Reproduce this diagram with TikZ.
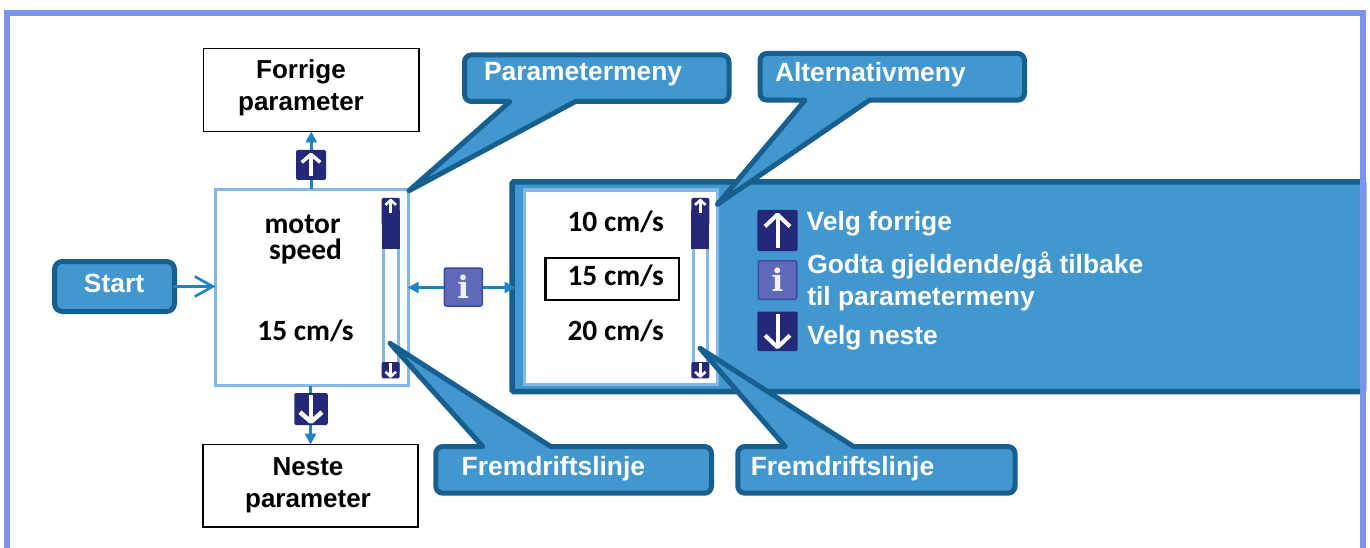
\documentclass[tikz,border=0pt]{standalone}
\usepackage{fontspec}
\setmainfont{Liberation Sans}
\newfontfamily\calfont{Carlito}
\newfontfamily\infofont{DejaVu Serif}
\usetikzlibrary{arrows.meta}
\definecolor{framec}{HTML}{7B93EC}
\definecolor{darkb}{HTML}{165F8F}
\definecolor{fillb}{HTML}{4397CF}
\definecolor{lightb}{HTML}{82B8E8}
\definecolor{arrowc}{HTML}{1A84C4}
\definecolor{navy}{HTML}{252879}
\definecolor{infof}{HTML}{5E69B8}
\definecolor{infod}{HTML}{3F4A9E}
\tikzset{
  x=1pt,y=-1pt,
  every node/.style={inner sep=0pt,outer sep=0pt},
  blackbox/.style={draw=black,line width=1.2pt,fill=white,rectangle},
  lightbox/.style={draw=lightb,line width=3.2pt,fill=white,rectangle},
  callout/.style={draw=darkb,fill=fillb,line width=5pt,line join=round},
  sanslabel/.style={font=\bfseries\fontsize{26}{32.2}\selectfont,text=black,align=center},
  whitelabel/.style={font=\bfseries\fontsize{26.4}{32.4}\selectfont,text=white,align=left},
  callabel/.style={font=\calfont\bfseries\fontsize{29.4}{26.5}\selectfont,text=black,align=center},
  navbox/.style={fill=navy,rounded corners=2pt,rectangle},
  infobox/.style={fill=infof,draw=infod,line width=1.5pt,rounded corners=2pt,rectangle,
     font=\infofont\bfseries\fontsize{31}{31}\selectfont,text=white!90!infof},
  flow/.style={draw=arrowc,line width=2.6pt},
  tiptri/.style={-{Triangle[length=11pt,width=11pt]}},
  wht/.style={draw=white,line width=#1,line join=round},
}
% name, cx, cy, w, h, direction (1 up, -1 down), scale x, scale y, line width
\newcommand\navicon[9]{%
  \node[navbox,minimum width=#4pt,minimum height=#5pt] (#1) at (#2,#3) {};
  \begin{scope}[shift={(#2,#3)},xscale=#7,yscale=#6*#8]
    \draw[wht=#9pt] (0,17) -- (0,-16);
    \draw[wht=#9pt] (-12.5,-4) -- (0,-16) -- (12.5,-4);
  \end{scope}}
% name, track left, track right, icon left
\newcommand\scrollbar[4]{%
  \node[draw=lightb,fill=white,line width=3pt,rectangle,minimum width=#3pt-#2pt,minimum height=170pt] (#1track)
     at ({(#2+#3)/2},285) {};
  \fill[navy,rounded corners=1.5pt] (#4,198) rectangle ({#4+18},225);
  \fill[navy] (#4,210) rectangle ({#4+18},249);
  \node[minimum width=18pt,minimum height=51pt] (#1thumb) at ({#4+9},223.5) {};
  \begin{scope}[shift={({#4+9},206.5)},xscale=.42,yscale=.4]
    \draw[wht=2.6pt] (0,17) -- (0,-16);
    \draw[wht=2.6pt] (-12.5,-4) -- (0,-16) -- (12.5,-4);
  \end{scope}
  \navicon{#1down}{#4+9}{370.2}{18}{16.4}{-1}{.42}{.4}{2.6}}
\begin{document}
\begin{tikzpicture}
\useasboundingbox (0,0) rectangle (1370,548);
\fill[white] (0,0) rectangle (1370,548);

% panel with the option menu
\node[draw=darkb,fill=fillb,line width=5.5pt,rectangle,rounded corners=1.5pt,minimum width=851.5pt,minimum height=209.5pt] (panel) at (937.75,286.75) {};
% frame
\draw[framec,line width=6pt] (7,548) -- (7,13) -- (1363,13) -- (1363,548);

% boxes
\node[blackbox,minimum width=215.5pt,minimum height=83pt] (forrige) at (311.25,90) {};
\node[blackbox,minimum width=215pt,minimum height=82.5pt] (neste) at (310.5,485.75) {};
\node[lightbox,minimum width=193pt,minimum height=196pt] (mainbox) at (312,287.5) {};
\node[draw=darkb,fill=fillb,line width=5pt,rectangle,rounded corners=8pt,minimum width=120pt,minimum height=50pt] (start) at (114.5,286.5) {};
\node[draw=lightb,fill=white,line width=3.5pt,rectangle,minimum width=193pt,minimum height=194.5pt] (optbox) at (621,287.25) {};
\node[blackbox,line width=2.2pt,minimum width=133.5pt,minimum height=41.7pt] (selbox) at (612.3,279.2) {};

% connectors
\draw[flow,-{Straight Barb[length=18pt,width=20pt]},line cap=round] (start.east) -- (mainbox.west |- start);
\draw[flow,tiptri] (forrige |- mainbox.north) -- (forrige.south);
\draw[flow,tiptri] (neste |- mainbox.south) -- (neste.north);
\draw[flow,{Triangle[length=11pt,width=11pt]}-{Triangle[length=11pt,width=11pt]},shorten >=-3.5pt,shorten <=-.8pt] (mainbox.east) -- (mainbox.east -| panel.west);
\node[infobox,minimum width=38pt,minimum height=38pt] (infomid) at (463.3,287) {i};

% arrow icons next to the main box
\navicon{upmid}{311}{165}{30}{30}{1}{.74}{.66}{3.5}
\navicon{downmid}{311}{409}{33.5}{32}{-1}{.88}{.8}{4.5}

% scroll bars
\scrollbar{sa}{383.5}{398}{381.7}
\scrollbar{sb}{693}{707.5}{691.3}

% texts
\node[sanslabel] (forrigetxt) at (301,88) {Forrige\\parameter};
\node[sanslabel] (nestetxt) at (308,485.5) {Neste\\parameter};
\node[whitelabel,anchor=base] (starttxt) at (114,292) {Start};
\node[callabel] (motortxt) at (305.5,239.5) {motor\hspace*{6pt}\\speed};
\node[callabel,anchor=base] (speedval) at (305.5,340) {15 cm/s};
\node[callabel,anchor=base] (opta) at (615.7,231.7) {10 cm/s};
\node[callabel,anchor=base] (optb) at (615.7,285.7) {15 cm/s};
\node[callabel,anchor=base] (optc) at (615.7,340) {20 cm/s};

% legend
\navicon{legup}{777.5}{230.5}{40.4}{41}{1}{1}{1}{4}
\node[infobox,minimum width=38.5pt,minimum height=38.5pt] (leginfo) at (777.5,280) {i};
\navicon{legdown}{777.5}{331.3}{40.4}{39.6}{-1}{1}{1}{4}
\node[whitelabel,anchor=base west] (legatxt) at (806.7,230.3) {Velg forrige};
\node[whitelabel,anchor=west] (legbtxt) at (807.3,281.5) {Godta gjeldende/gå tilbake\\til parametermeny};
\node[whitelabel,anchor=base west] (legctxt) at (807.3,344.3) {Velg neste};

% callouts
\draw[callout] (575.5,101.5) [rounded corners=7pt] -- (729,101.5) -- (729,55) -- (464.5,55) -- (464.5,101.5) [sharp corners] -- (510,101.5) -- (409,190.7) -- cycle;
\node[whitelabel,anchor=base west] (parammenu) at (484,81) {Parametermeny};
\draw[callout] (869.4,100.2) [rounded corners=7pt] -- (1024.5,100.2) -- (1024.5,53.5) -- (760,53.5) -- (760,100.2) [sharp corners] -- (805,100.2) -- (717.5,204.3) -- cycle;
\node[whitelabel,anchor=base west] (altmenu) at (775,81.7) {Alternativmeny};
\draw[callout] (482.7,446.5) [rounded corners=7pt] -- (435.8,446.5) -- (435.8,493.2) -- (711.5,493.2) -- (711.5,446.5) [sharp corners] -- (550.7,446.5) -- (390,343.3) -- cycle;
\node[whitelabel,anchor=base west] (progressa) at (461.7,475.3) {Fremdriftslinje};
\draw[callout] (785.3,446.5) [rounded corners=7pt] -- (737.8,446.5) -- (737.8,493.2) -- (1015,493.2) -- (1015,446.5) [sharp corners] -- (853.5,446.5) -- (700,348.3) -- cycle;
\node[whitelabel,anchor=base west] (progressb) at (750.8,475.3) {Fremdriftslinje};
\end{tikzpicture}
\end{document}
